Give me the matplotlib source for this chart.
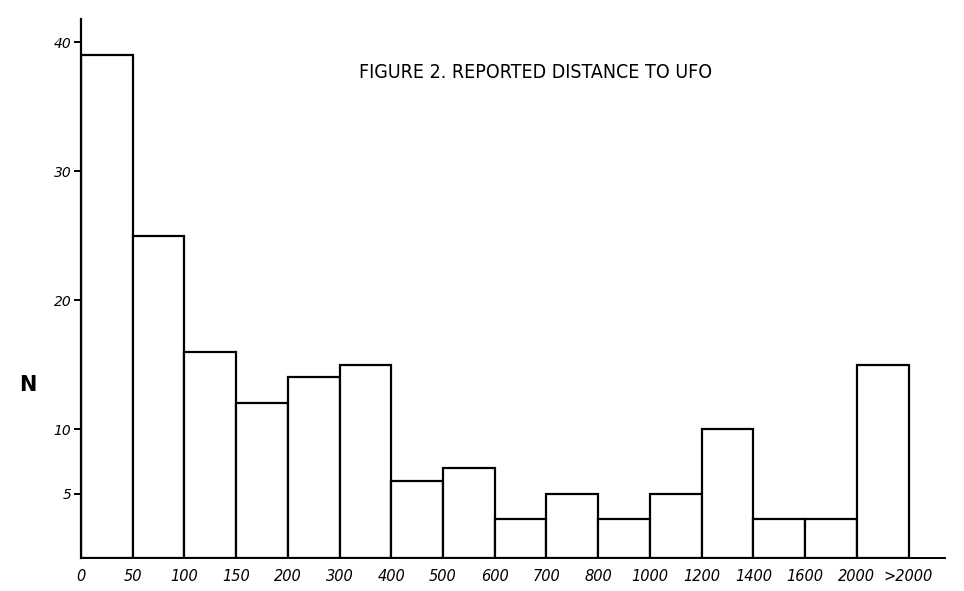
import matplotlib
matplotlib.use("Agg")
import matplotlib.pyplot as plt
import numpy as np

edge_labels = ["0", "50", "100", "150", "200", "300", "400", "500", "600",
               "700", "800", "1000", "1200", "1400", "1600", "2000", ">2000"]
counts = [39, 25, 16, 12, 14, 15, 6, 7, 3, 5, 3, 5, 10, 3, 3, 15]
ytick_vals = [5, 10, 20, 30, 40]

fig = plt.figure(figsize=(9.64, 5.91), dpi=100)
ax = fig.add_axes([0.084, 0.0558, 0.896, 0.912])

pos = np.arange(len(counts))
ax.bar(pos, counts, width=1.0, align='edge', color='white',
       edgecolor='black', linewidth=1.6)

ax.set_xlim(0, 16.7)
ax.set_ylim(0, 41.8)
for s in ['top', 'right']:
    ax.spines[s].set_visible(False)
ax.spines['left'].set_linewidth(1.6)
ax.spines['bottom'].set_linewidth(1.4)

ax.set_yticks(ytick_vals)
ax.set_yticklabels([str(v) for v in ytick_vals], fontsize=10, style='italic')
ax.tick_params(axis='y', length=5, width=1.4, pad=2)
ax.set_xticks(np.arange(len(edge_labels)))
ax.set_xticklabels(edge_labels, fontsize=10.5, style='italic')
ax.tick_params(axis='x', length=0, pad=8)

fig.text(0.029, 0.348, "N", fontsize=15, fontweight='bold', ha='center', va='center')
fig.text(0.556, 0.878, "FIGURE 2. REPORTED DISTANCE TO UFO", fontsize=14,
         family='DejaVu Sans', fontstretch='condensed', fontweight='light',
         ha='center', va='center')

fig.savefig("out.png", dpi=100)
